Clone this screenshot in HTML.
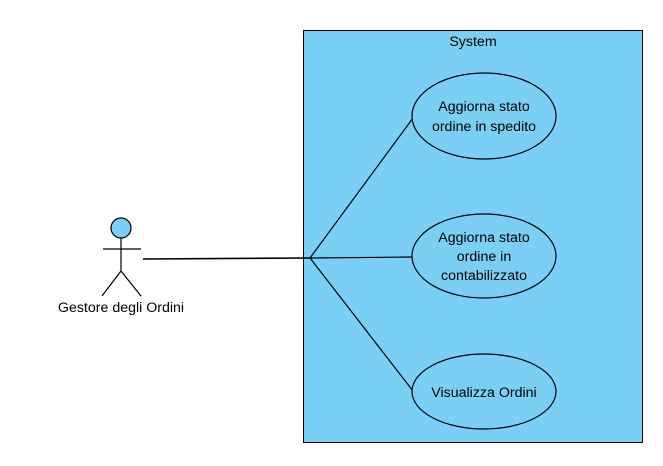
<!DOCTYPE html>
<html><head><meta charset="utf-8"><style>
html,body{margin:0;padding:0;background:#fff;}
svg text{font-family:"Liberation Sans",sans-serif;font-size:14.2px;fill:#000;}
</style></head><body>
<svg width="663" height="461" viewBox="0 0 663 461" xmlns="http://www.w3.org/2000/svg">
<rect x="303.5" y="30.5" width="339" height="412" fill="#7acff5" stroke="#000" stroke-width="1"/>
<text x="473" y="46" text-anchor="middle">System</text>
<g stroke="#000" stroke-width="1.2" fill="none">
<line x1="143" y1="259" x2="310" y2="258" stroke-width="1.6"/>
<line x1="310" y1="258" x2="413" y2="118"/>
<line x1="310" y1="258" x2="413" y2="257"/>
<line x1="310" y1="258" x2="413" y2="391"/>
</g>
<g fill="#7acff5" stroke="#000" stroke-width="1.2">
<ellipse cx="484" cy="116" rx="72" ry="43"/>
<ellipse cx="484" cy="256" rx="72" ry="42"/>
<ellipse cx="484" cy="391.5" rx="72" ry="37.5"/>
</g>
<text x="484" y="111" text-anchor="middle">Aggiorna stato</text>
<text x="484" y="131" text-anchor="middle">ordine in spedito</text>
<text x="484" y="242" text-anchor="middle">Aggiorna stato</text>
<text x="484" y="261" text-anchor="middle">ordine in</text>
<text x="484" y="280" text-anchor="middle">contabilizzato</text>
<text x="484" y="397" text-anchor="middle">Visualizza Ordini</text>
<circle cx="121" cy="228" r="10" fill="#7acff5" stroke="#000" stroke-width="1.2"/>
<g stroke="#000" stroke-width="1.2">
<line x1="121" y1="238" x2="121" y2="271"/>
<line x1="103" y1="249" x2="141" y2="249"/>
<line x1="121" y1="271" x2="102" y2="296"/>
<line x1="121" y1="271" x2="141" y2="296"/>
</g>
<text x="121" y="312" text-anchor="middle">Gestore degli Ordini</text>
</svg>
</body></html>
